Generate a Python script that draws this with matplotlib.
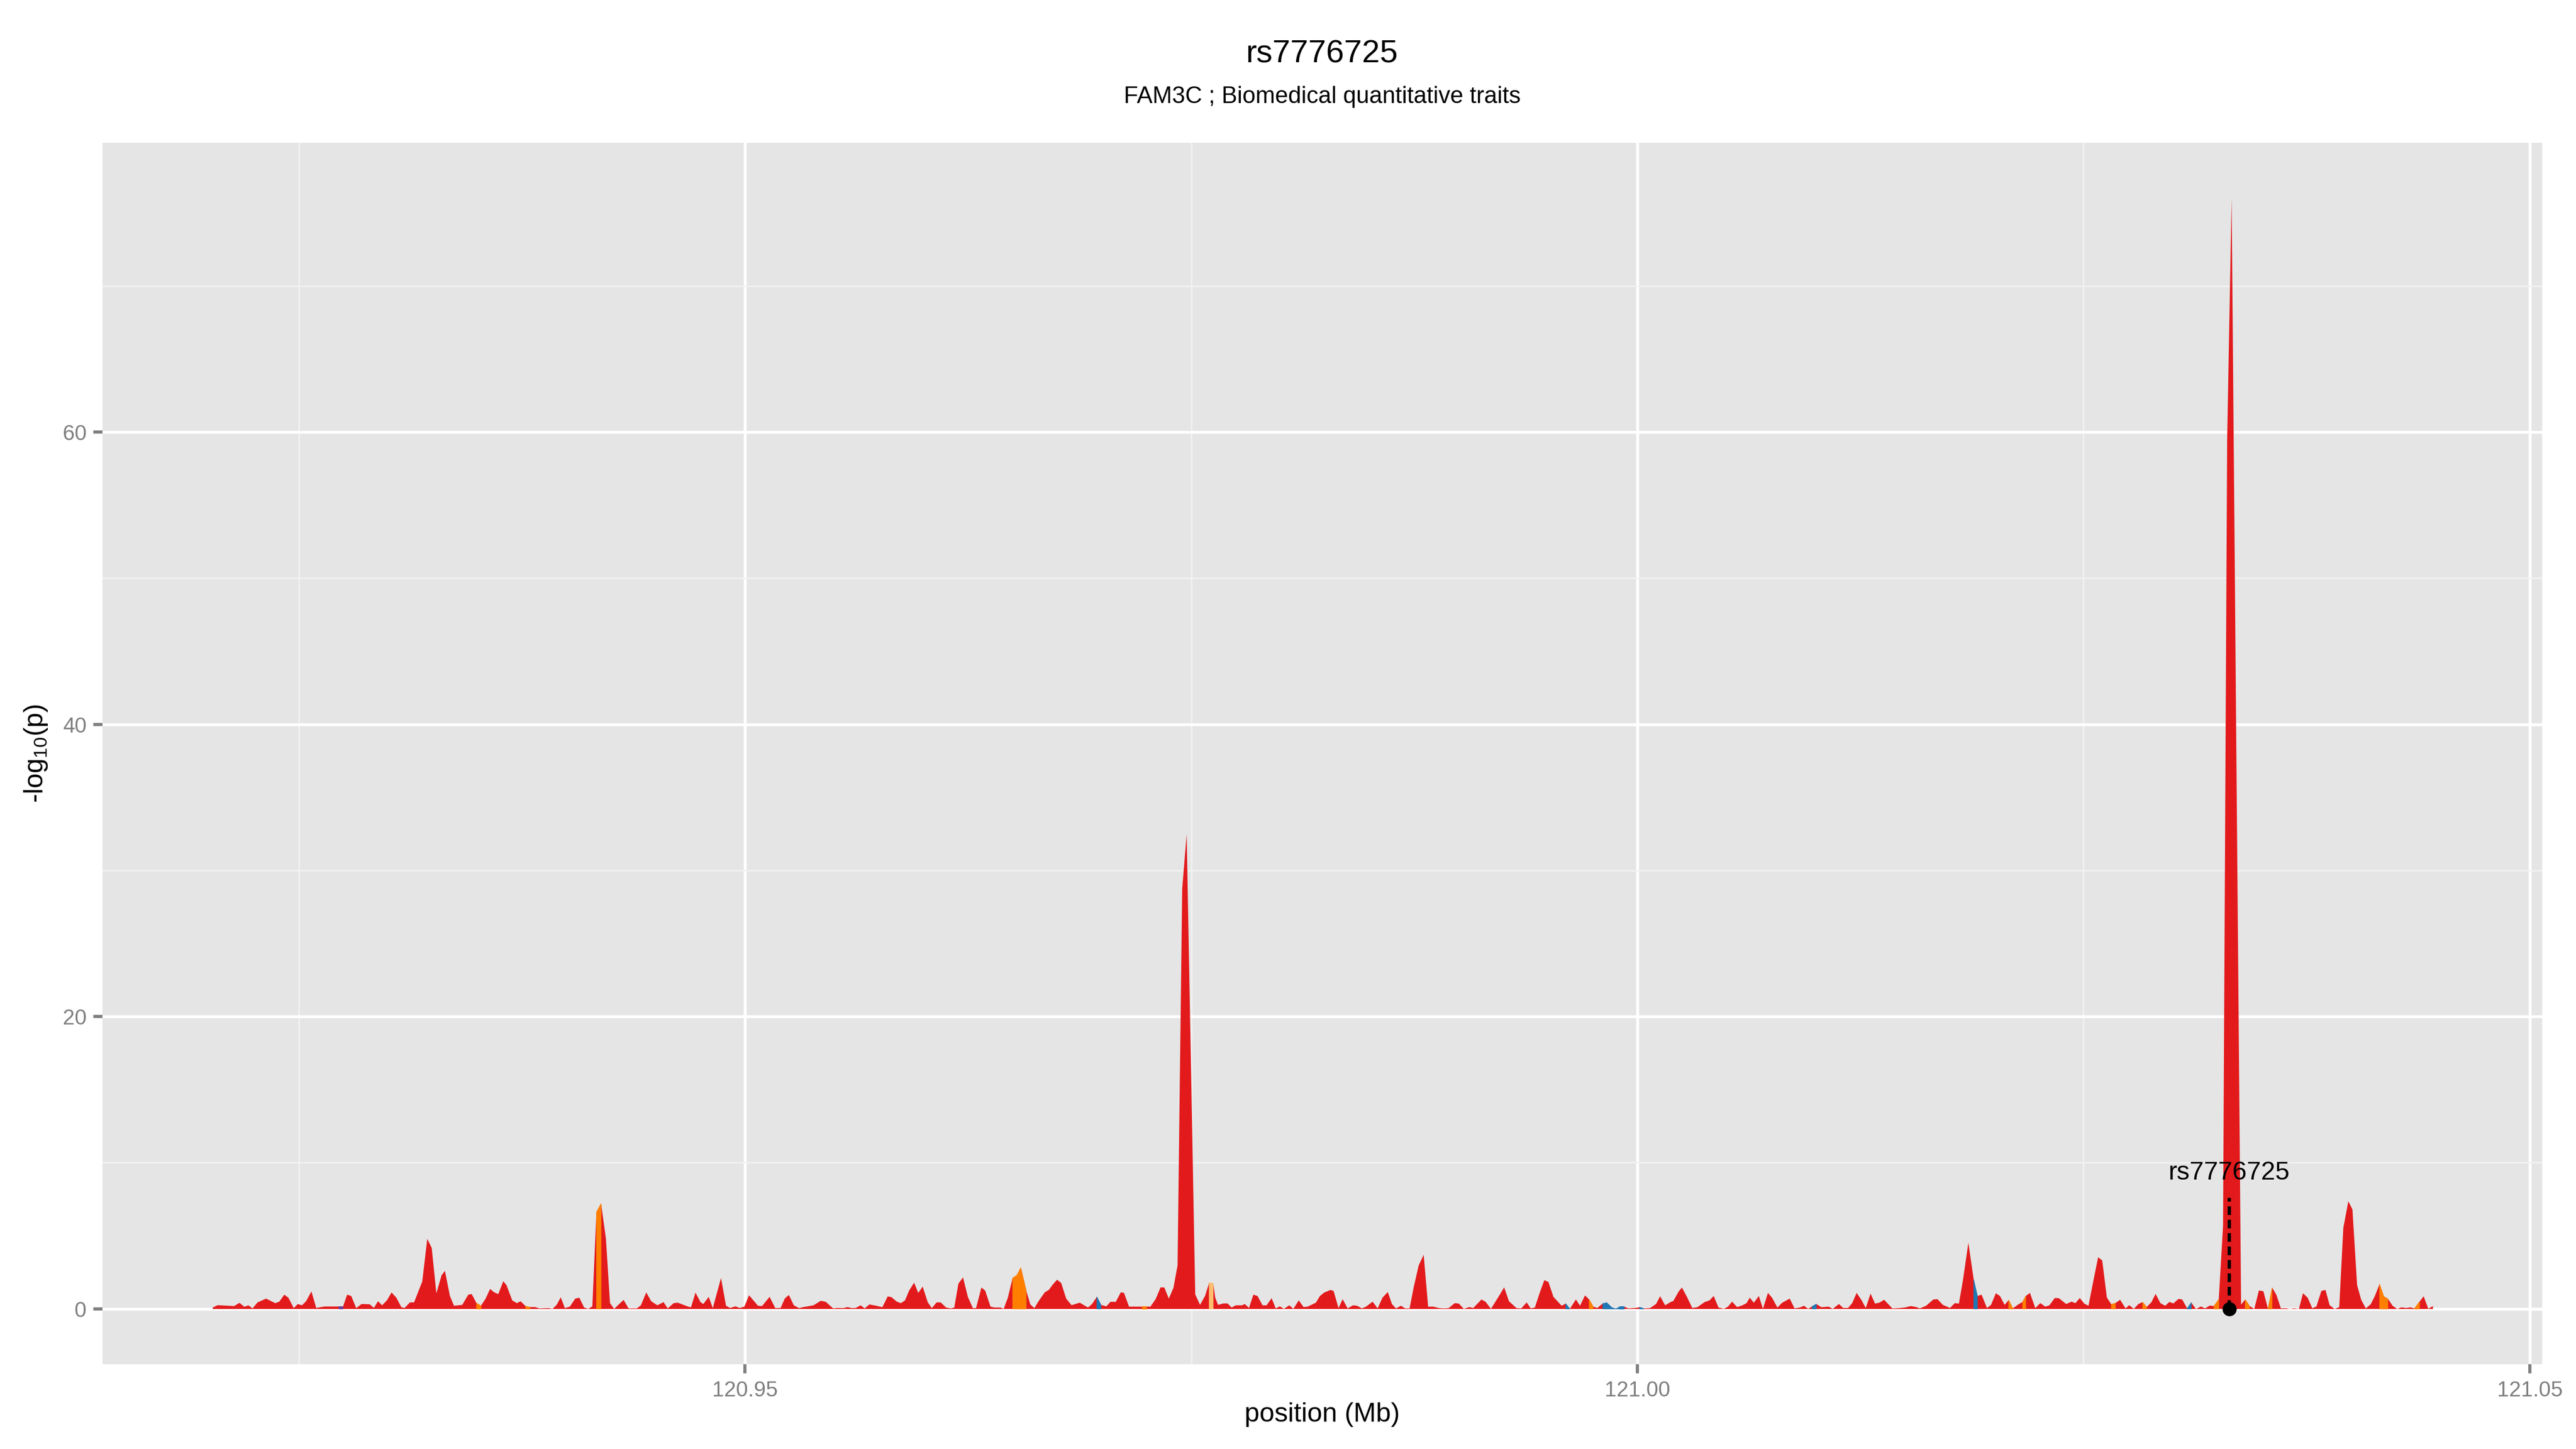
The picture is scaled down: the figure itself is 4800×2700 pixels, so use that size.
import matplotlib
matplotlib.use('Agg')
import matplotlib.pyplot as plt

plt.rcParams['font.family'] = ['Liberation Sans', 'DejaVu Sans']
plt.rcParams['mathtext.default'] = 'regular'

# datos: posicion (Mb) y -log10(p)
position_mb = [
    120.92016, 120.92044, 120.92136, 120.92166, 120.92193, 120.92216, 120.92239, 120.92267,
    120.92315, 120.92366, 120.92389, 120.92417, 120.92440, 120.92470, 120.92493, 120.92516,
    120.92539, 120.92569, 120.92596, 120.92642, 120.92723, 120.92746, 120.92769, 120.92792,
    120.92820, 120.92850, 120.92896, 120.92919, 120.92942, 120.92965, 120.92992, 120.93018,
    120.93045, 120.93073, 120.93091, 120.93121, 120.93144, 120.93190, 120.93218, 120.93243,
    120.93269, 120.93298, 120.93317, 120.93345, 120.93368, 120.93414, 120.93448, 120.93467,
    120.93494, 120.93519, 120.93545, 120.93570, 120.93593, 120.93616, 120.93644, 120.93662,
    120.93694, 120.93720, 120.93741, 120.93770, 120.93793, 120.93823, 120.93846, 120.93897,
    120.93920, 120.93943, 120.93966, 120.93989, 120.94017, 120.94047, 120.94070, 120.94097,
    120.94120, 120.94143, 120.94166, 120.94192, 120.94219, 120.94242, 120.94265, 120.94318,
    120.94346, 120.94392, 120.94415, 120.94445, 120.94473, 120.94507, 120.94542, 120.94565,
    120.94599, 120.94622, 120.94680, 120.94696, 120.94721, 120.94749, 120.94765, 120.94795,
    120.94818, 120.94864, 120.94892, 120.94915, 120.94945, 120.94968, 120.94995, 120.95021,
    120.95071, 120.95094, 120.95136, 120.95168, 120.95198, 120.95221, 120.95244, 120.95272,
    120.95301, 120.95325, 120.95382, 120.95423, 120.95451,
    120.95492, 120.95515, 120.95550, 120.95573, 120.95596, 120.95619, 120.95646, 120.95669,
    120.95695, 120.95734, 120.95768, 120.95798, 120.95819, 120.95849, 120.95872, 120.95895,
    120.95918, 120.95946, 120.95969, 120.95994, 120.96022, 120.96045, 120.96072, 120.96095,
    120.96125, 120.96153, 120.96171, 120.96194, 120.96220, 120.96247, 120.96275, 120.96293,
    120.96323, 120.96344, 120.96374, 120.96397, 120.96429, 120.96448, 120.96471, 120.96498,
    120.96521, 120.96544, 120.96574, 120.96597, 120.96620, 120.96643, 120.96678, 120.96701,
    120.96724, 120.96747, 120.96770, 120.96798, 120.96828, 120.96874, 120.96920, 120.96943,
    120.96970, 120.96993, 120.97023, 120.97046, 120.97076, 120.97104, 120.97122, 120.97150,
    120.97184, 120.97224, 120.97247, 120.97270, 120.97299, 120.97327, 120.97348, 120.97373,
    120.97399, 120.97422, 120.97448, 120.97473, 120.97521, 120.97548, 120.97576, 120.97599,
    120.97622, 120.97633, 120.97649, 120.97679, 120.97702, 120.97725, 120.97748, 120.97783,
    120.97799, 120.97822, 120.97847, 120.97870, 120.97898, 120.97921, 120.97949, 120.97972,
    120.97995, 120.98018, 120.98048, 120.98071, 120.98101, 120.98128, 120.98151, 120.98197,
    120.98220, 120.98243, 120.98278, 120.98296, 120.98324, 120.98347, 120.98375, 120.98405,
    120.98428, 120.98455, 120.98478, 120.98515, 120.98543, 120.98570, 120.98600, 120.98623,
    120.98646, 120.98674, 120.98697, 120.98722, 120.98745, 120.98773, 120.98801, 120.98826,
    120.98854, 120.98888,
    120.98918, 120.98941, 120.98975, 120.98998, 120.99026, 120.99056, 120.99079, 120.99125,
    120.99148, 120.99178, 120.99217, 120.99252, 120.99279, 120.99321, 120.99348, 120.99378,
    120.99401, 120.99424, 120.99452, 120.99477, 120.99500, 120.99528, 120.99574, 120.99597,
    120.99620, 120.99654, 120.99677, 120.99705, 120.99728, 120.99751, 120.99774, 120.99804,
    120.99827, 120.99855, 120.99878, 120.99901, 120.99924, 120.99947, 120.99988, 121.00011,
    121.00034, 121.00069, 121.00103, 121.00126, 121.00154, 121.00184, 121.00200, 121.00230,
    121.00248, 121.00276, 121.00306, 121.00334, 121.00375, 121.00403, 121.00426, 121.00453,
    121.00483, 121.00506, 121.00529, 121.00557, 121.00587, 121.00610, 121.00628, 121.00651,
    121.00679, 121.00702, 121.00730, 121.00753, 121.00783, 121.00810, 121.00852, 121.00879,
    121.00909, 121.00932, 121.00955, 121.00978, 121.01001, 121.01029, 121.01070, 121.01093,
    121.01128, 121.01151, 121.01179, 121.01202, 121.01227, 121.01255, 121.01278, 121.01305,
    121.01330, 121.01354, 121.01381, 121.01427, 121.01462, 121.01496, 121.01531, 121.01561,
    121.01581, 121.01616, 121.01657, 121.01680, 121.01710, 121.01750, 121.01777, 121.01800,
    121.01823, 121.01853, 121.01883, 121.01904, 121.01927, 121.01957, 121.01980, 121.02007,
    121.02030, 121.02056, 121.02079, 121.02102, 121.02129, 121.02157, 121.02175, 121.02198,
    121.02228, 121.02256, 121.02284, 121.02307, 121.02337, 121.02360, 121.02401,
    121.02431, 121.02453, 121.02477, 121.02503, 121.02526, 121.02554, 121.02580, 121.02603,
    121.02629, 121.02654, 121.02677, 121.02703, 121.02734, 121.02754, 121.02780, 121.02806,
    121.02829, 121.02852, 121.02879, 121.02902, 121.02929, 121.02956, 121.02979, 121.03002,
    121.03030, 121.03051, 121.03079, 121.03102, 121.03128, 121.03156, 121.03179, 121.03205,
    121.03229, 121.03256, 121.03280, 121.03303, 121.03328, 121.03381, 121.03404, 121.03429,
    121.03455, 121.03481, 121.03506, 121.03532, 121.03555, 121.03578, 121.03604, 121.03632,
    121.03655, 121.03678, 121.03705, 121.03728, 121.03754, 121.03780, 121.03803, 121.03831,
    121.03854, 121.03877, 121.03905, 121.03931, 121.03954, 121.03982, 121.04005, 121.04031,
    121.04054, 121.04080, 121.04107, 121.04130, 121.04157, 121.04181, 121.04204, 121.04230,
    121.04256, 121.04279, 121.04307, 121.04330, 121.04353, 121.04381, 121.04404, 121.04430,
    121.04456,
]

neglog10p = [
    0.10, 0.26, 0.20, 0.42, 0.15, 0.25, 0.04, 0.45,
    0.71, 0.40, 0.50, 0.98, 0.77, 0.06, 0.34, 0.25,
    0.53, 1.20, 0.07, 0.17, 0.17, 0.16, 0.98, 0.89,
    0.06, 0.34, 0.32, 0.07, 0.53, 0.25, 0.59, 1.13,
    0.77, 0.12, 0.07, 0.45, 0.45, 1.88, 4.80, 4.18,
    1.07, 2.30, 2.61, 0.89, 0.22, 0.28, 0.98, 1.02,
    0.40, 0.22, 0.71, 1.37, 1.14, 1.02, 1.90, 1.63,
    0.59, 0.40, 0.53, 0.18, 0.13, 0.13, 0.04, 0.06,
    0.01, 0.28, 0.80, 0.06, 0.16, 0.71, 0.77, 0.10,
    0.01, 0.18, 6.62, 7.21, 4.82, 0.40, 0.01, 0.62,
    0.04, 0.04, 0.25, 1.13, 0.53, 0.25, 0.47, 0.04,
    0.40, 0.43, 0.16, 0.12, 1.12, 0.47, 0.34, 0.83,
    0.06, 2.12, 0.22, 0.07, 0.18, 0.07, 0.16, 0.94,
    0.22, 0.20, 0.83, 0.06, 0.07, 0.71, 0.96, 0.25,
    0.06, 0.13, 0.25, 0.56, 0.49,
    0.04, 0.07, 0.06, 0.13, 0.06, 0.07, 0.25, 0.04,
    0.31, 0.22, 0.12, 0.86, 0.81, 0.50, 0.40, 0.59,
    1.26, 1.80, 1.10, 1.53, 0.47, 0.06, 0.45, 0.45,
    0.10, 0.04, 0.10, 1.73, 2.16, 0.83, 0.06, 0.06,
    1.47, 1.26, 0.16, 0.10, 0.10, 0.01, 0.77, 2.12,
    2.30, 2.82, 1.26, 0.31, 0.06, 0.53, 1.14, 1.31,
    1.69, 2.00, 1.78, 0.71, 0.26, 0.43, 0.10, 0.34,
    0.83, 0.28, 0.18, 0.49, 0.49, 1.14, 1.10, 0.16,
    0.16, 0.16, 0.16, 0.16, 0.67, 1.48, 1.47, 0.71,
    1.45, 2.98, 28.75, 32.50, 1.00, 0.28, 0.89, 1.79,
    1.75, 0.77, 0.28, 0.38, 0.38, 0.10, 0.25, 0.25,
    0.34, 0.07, 0.98, 0.89, 0.25, 0.25, 0.74, 0.04,
    0.18, 0.01, 0.25, 0.01, 0.59, 0.13, 0.16, 0.43,
    0.89, 1.12, 1.30, 1.24, 0.06, 0.67, 0.04, 0.25,
    0.22, 0.04, 0.16, 0.50, 0.04, 0.77, 1.16, 0.34,
    0.04, 0.22, 0.04, 0.04, 1.48, 2.98, 3.71, 0.16,
    0.16, 0.06,
    0.04, 0.06, 0.40, 0.37, 0.01, 0.13, 0.07, 0.65,
    0.49, 0.01, 0.77, 1.48, 0.53, 0.06, 0.04, 0.45,
    0.04, 0.10, 1.14, 1.97, 1.85, 0.83, 0.22, 0.37,
    0.01, 0.65, 0.22, 0.93, 0.65, 0.16, 0.07, 0.37,
    0.43, 0.10, 0.01, 0.16, 0.16, 0.04, 0.07, 0.12,
    0.04, 0.06, 0.34, 0.87, 0.25, 0.47, 0.55, 1.20,
    1.47, 0.83, 0.07, 0.12, 0.47, 0.59, 0.89, 0.10,
    0.01, 0.16, 0.50, 0.13, 0.25, 0.40, 0.77, 0.43,
    0.89, 0.01, 1.10, 0.77, 0.10, 0.43, 0.71, 0.04,
    0.10, 0.22, 0.01, 0.18, 0.34, 0.12, 0.16, 0.01,
    0.34, 0.07, 0.07, 0.40, 1.10, 0.59, 0.07, 1.05,
    0.37, 0.43, 0.63, 0.04, 0.06, 0.10, 0.20, 0.13,
    0.04, 0.22, 0.65, 0.67, 0.28, 0.07, 0.40, 0.37,
    2.00, 4.53, 2.00, 0.89, 0.98, 0.07, 0.28, 1.08,
    0.89, 0.28, 0.61, 0.04, 0.28, 0.49, 0.89, 1.10,
    0.06, 0.40, 0.16, 0.25, 0.75, 0.74, 0.34,
    0.50, 0.40, 0.75, 0.36, 0.22, 1.97, 3.54, 3.32,
    0.78, 0.32, 0.40, 0.63, 0.04, 0.26, 0.01, 0.34,
    0.47, 0.13, 0.47, 1.03, 0.40, 0.22, 0.48, 0.38,
    0.69, 0.65, 0.04, 0.44, 0.00, 0.17, 0.04, 0.23,
    0.20, 0.66, 5.70, 59.50, 76.00, 0.30, 0.65, 0.20,
    0.00, 1.27, 1.21, 0.00, 1.46, 0.99, 0.04, 0.05,
    0.00, 0.04, 0.00, 1.08, 0.77, 0.05, 0.17, 1.24,
    1.30, 0.26, 0.00, 0.13, 5.56, 7.37, 6.81, 1.64,
    0.63, 0.04, 0.32, 0.87, 1.70, 0.85, 0.69, 0.22,
    0.00, 0.11, 0.07, 0.11, 0.04, 0.50, 0.87, 0.01,
    0.20,
]

# grupo de LD del tramo que empieza en esa posicion (el resto es rojo)
ld_group = {
    120.92723: 'purple',
    120.93494: 'orange', 120.93770: 'orange', 120.94166: 'orange',
    120.96498: 'orange', 120.96521: 'orange', 120.96544: 'orange',
    120.96970: 'blue', 120.97224: 'orange', 120.97599: 'light_orange',
    120.99597: 'blue', 120.99728: 'orange',
    120.99804: 'blue', 120.99827: 'blue', 120.99855: 'blue', 120.99878: 'blue', 120.99901: 'blue',
    121.00011: 'blue', 121.00978: 'blue', 121.01883: 'blue',
    121.02079: 'orange', 121.02157: 'orange',
    121.02654: 'orange', 121.02829: 'orange', 121.03079: 'blue', 121.03229: 'orange',
    121.03404: 'orange', 121.03532: 'orange',
    121.04157: 'orange', 121.04181: 'orange', 121.04353: 'orange',
}

COLORS = {
    'red': '#E31A1C',
    'orange': '#FF7F00',
    'light_orange': '#FDBF6F',
    'blue': '#1F78B4',
    'purple': '#6A3D9A',
}

snp_name = 'rs7776725'
snp_pos = 121.03317
title = 'rs7776725'
subtitle = 'FAM3C ; Biomedical quantitative traits'

x_ticks = [120.95, 121.00, 121.05]
x_tick_labels = ['120.95', '121.00', '121.05']
y_ticks = [0, 20, 40, 60]


def main():
    fig = plt.figure(figsize=(16, 9), dpi=300)
    ax = fig.add_axes([0.0398, 0.0585, 0.9471, 0.8430])
    ax.set_facecolor('#E5E5E5')

    # area principal en rojo
    ax.fill_between(position_mb, neglog10p, 0, color=COLORS['red'], lw=0, zorder=2)

    # tramos coloreados segun LD
    for i in range(len(position_mb) - 1):
        g = ld_group.get(position_mb[i])
        if g is None:
            continue
        ax.fill_between(position_mb[i:i + 2], neglog10p[i:i + 2], 0,
                        color=COLORS[g], lw=0.2, zorder=3)

    # marca del SNP
    ax.plot([snp_pos, snp_pos], [0, 7.6], color='black', lw=1.5,
            ls=(0, (2.6, 1.4)), zorder=5)
    ax.plot([snp_pos], [0], 'o', color='black', ms=5.3, zorder=6)
    ax.text(snp_pos, 9.3, snp_name, ha='center', va='center', fontsize=11.5,
            color='black', zorder=6)

    ax.set_xlim(120.9140, 121.0507)
    ax.set_ylim(-3.8, 79.8)
    ax.set_xticks(x_ticks)
    ax.set_xticklabels(x_tick_labels)
    ax.set_xticks([120.925, 120.975, 121.025], minor=True)
    ax.set_yticks(y_ticks)
    ax.set_yticklabels([str(v) for v in y_ticks])
    ax.set_yticks([10, 30, 50, 70], minor=True)

    ax.set_axisbelow(True)
    ax.grid(which='major', color='white', lw=1.3)
    ax.grid(which='minor', color='#F2F2F2', lw=0.65)
    for s in ax.spines.values():
        s.set_visible(False)

    ax.tick_params(which='major', length=4, width=1.4, color='#7F7F7F',
                   labelcolor='#7F7F7F', labelsize=9.6, pad=3.2)
    ax.tick_params(which='minor', length=0)

    cx = 0.0398 + 0.9471 / 2
    fig.text(cx, 0.9626, title, ha='center', va='center', fontsize=14.4)
    fig.text(cx, 0.9333, subtitle, ha='center', va='center', fontsize=10.5)
    fig.text(cx, 0.0237, 'position (Mb)', ha='center', va='center', fontsize=12)
    fig.text(0.0140, 0.0585 + 0.8430 / 2, '-log$_{10}$(p)', ha='center', va='center',
             rotation=90, fontsize=12)

    fig.savefig('out.png', dpi=300)


if __name__ == "__main__":
    main()
